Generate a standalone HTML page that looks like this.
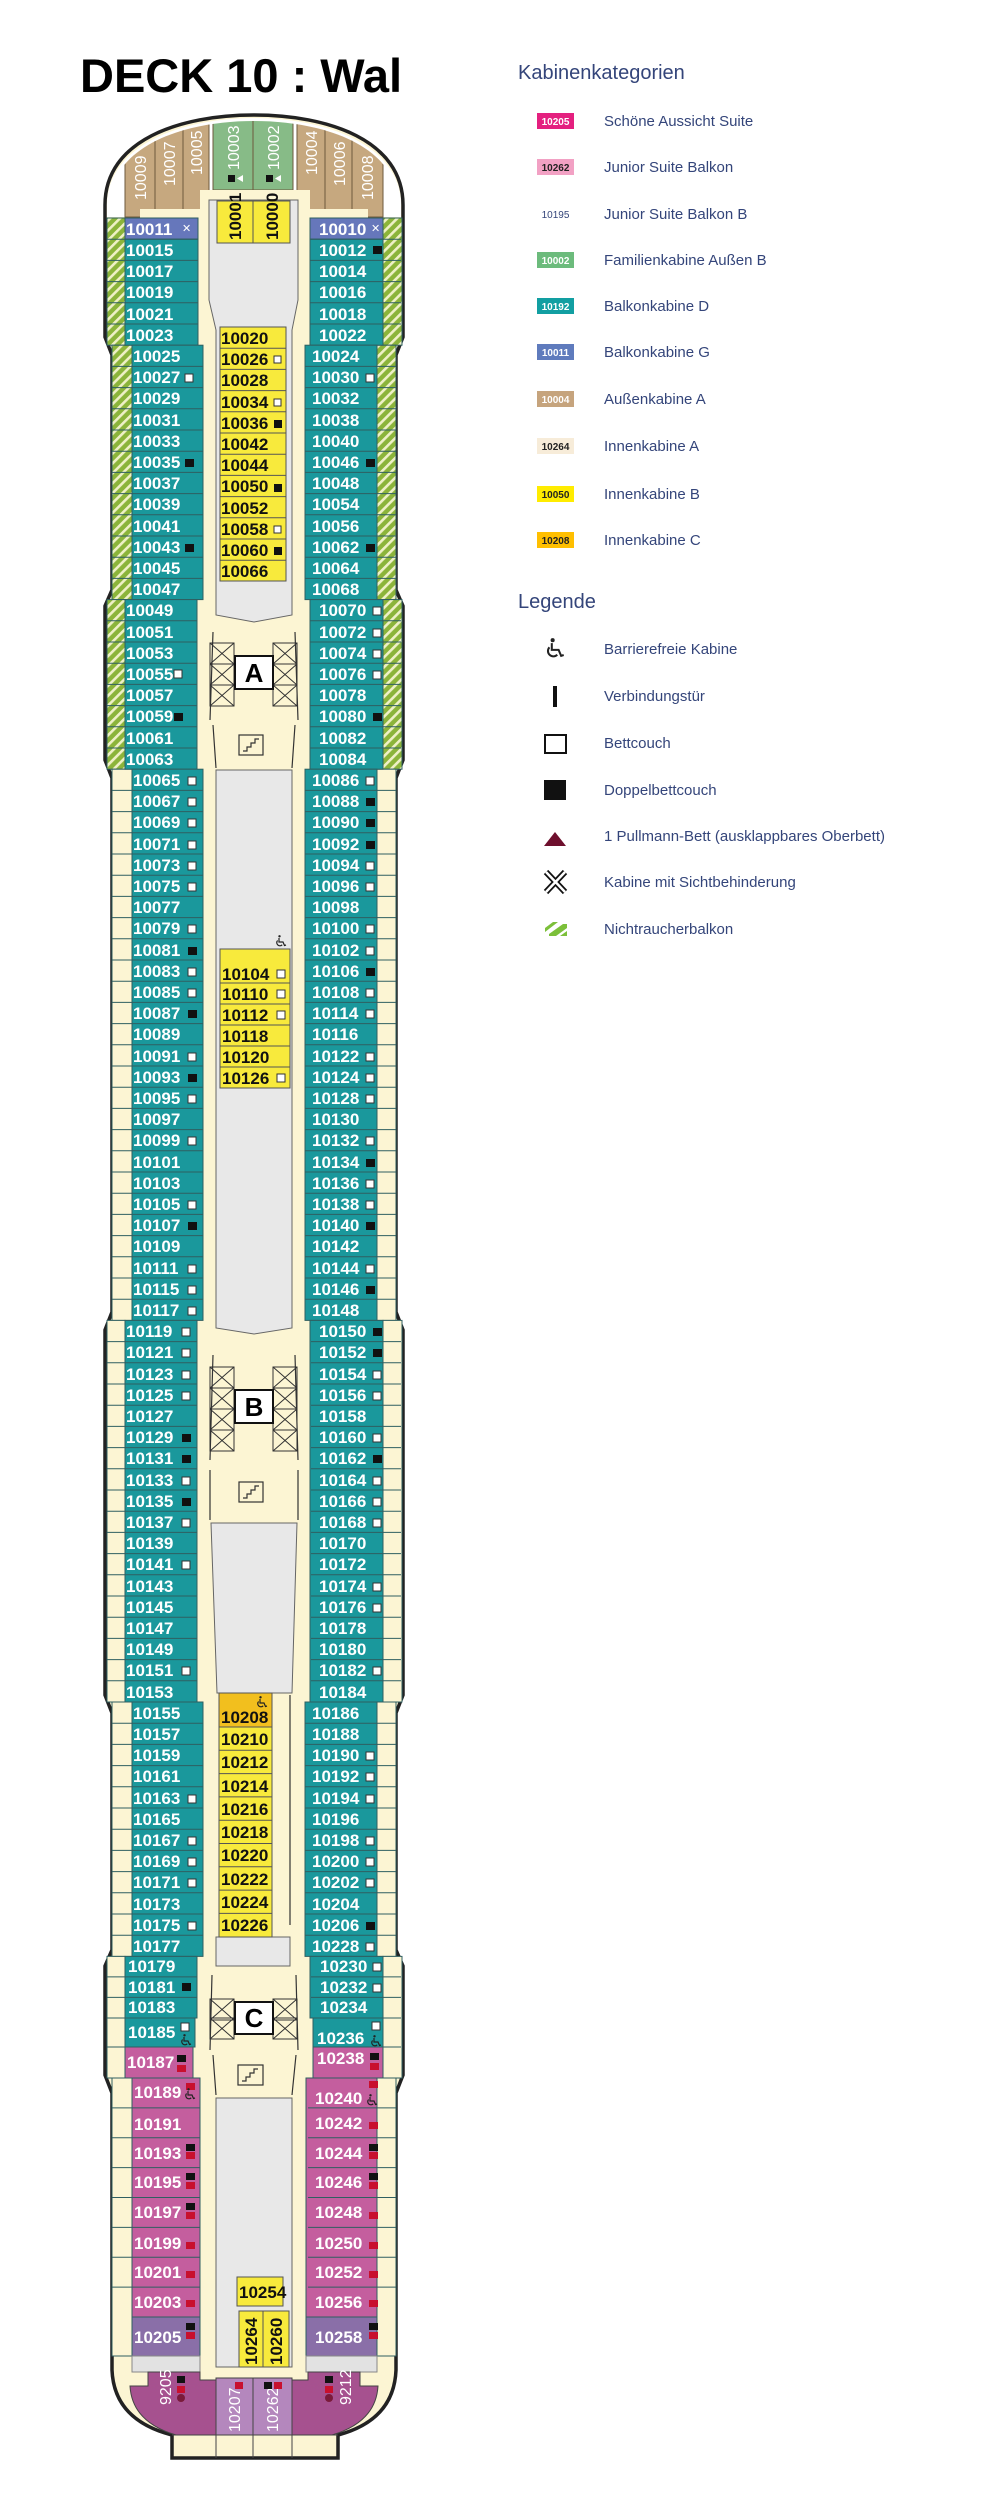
<!DOCTYPE html>
<html><head><meta charset="utf-8">
<style>
html,body{margin:0;padding:0;background:#fff;width:1000px;height:2500px;overflow:hidden}
svg text{font-family:"Liberation Sans",sans-serif}
.t{font-weight:bold;font-size:17px;fill:#fff}
.k{font-weight:bold;font-size:17px;fill:#111}
.v{font-size:16px;fill:#fff}
.lg{font-size:15px;fill:#34457a}
.hd{font-size:20px;fill:#34457a}
.bd{font-weight:bold;font-size:10px}
</style></head><body>
<svg width="1000" height="2500" viewBox="0 0 1000 2500" xmlns="http://www.w3.org/2000/svg">
<defs>
<pattern id="st" width="7" height="7" patternUnits="userSpaceOnUse" patternTransform="rotate(45)">
<rect width="7" height="7" fill="#8bb43a"/><rect width="2.6" height="7" fill="#eef0c6"/></pattern>
<clipPath id="bow"><path d="M110,230 L110,205 C110,147 182,121 254,121 C326,121 398,147 398,205 L398,230 Z"/></clipPath>
<g id="cr"><rect x="0" y="0" width="24" height="21" fill="none" stroke="#333" stroke-width="1"/><path d="M0,0 L24,21 M24,0 L0,21" stroke="#333" stroke-width="1"/></g>
<g id="wc" fill="none" stroke="#222" stroke-width="1.2"><circle cx="4.5" cy="1.3" r="1.2" fill="#222" stroke="none"/><path d="M4,3 L4,7 L8,7 L9.5,10.5 L11,10"/><path d="M2.6,5.5 A3,3 0 1 0 7.2,9.8"/></g>
</defs>

<text x="80" y="92" font-weight="bold" font-size="47" fill="#000">DECK 10 : Wal</text>

<!-- hull -->
<path d="M105,205 C105,140 180,115 254,115 C328,115 403,140 403,205 L403,337 L396,355 L396,590 L403,606 L403,760 L396,778 L396,1312 L403,1330 L403,1695 L396,1713 L396,1950 L403,1966 L403,2075 L396,2093 L396,2370 Q394,2420 338,2435 L338,2458 L172,2458 L172,2435 Q114,2420 112,2370 L112,2093 L105,2075 L105,1966 L112,1950 L112,1713 L105,1695 L105,1330 L112,1312 L112,778 L105,760 L105,606 L112,590 L112,355 L105,337 Z" fill="#fcf5d3" stroke="#222" stroke-width="3.5"/>
<path d="M107,217 L107,205 C107,145 182,118 254,118 C326,118 401,145 401,205 L401,217 Z" fill="#fff"/>
<g clip-path="url(#bow)" stroke="#6e5a3e" stroke-width="1">
<rect x="125" y="110" width="30" height="107" fill="#c6a87f"/>
<rect x="155" y="110" width="28" height="100" fill="#c6a87f"/>
<rect x="183" y="110" width="26" height="100" fill="#c6a87f"/>
<rect x="213" y="110" width="40" height="80" fill="#87bb87"/>
<rect x="253" y="110" width="40" height="80" fill="#87bb87"/>
<rect x="297" y="110" width="28" height="100" fill="#c6a87f"/>
<rect x="325" y="110" width="27" height="100" fill="#c6a87f"/>
<rect x="352" y="110" width="31" height="107" fill="#c6a87f"/>
</g>
<rect x="140" y="209" width="228" height="9" fill="#fcf5d3"/>
<rect x="200" y="190" width="110" height="20" fill="#fcf5d3"/>
<g class="v">
<text transform="translate(146,200) rotate(-90)">10009</text>
<text transform="translate(175,186) rotate(-90)">10007</text>
<text transform="translate(202,175) rotate(-90)">10005</text>
<text transform="translate(239,170) rotate(-90)">10003</text>
<text transform="translate(279,170) rotate(-90)">10002</text>
<text transform="translate(317,175) rotate(-90)">10004</text>
<text transform="translate(345,186) rotate(-90)">10006</text>
<text transform="translate(373,200) rotate(-90)">10008</text>
</g>
<rect x="228" y="175" width="7" height="7" fill="#111"/><path d="M243,175 L243,182 L237,178.5Z" fill="#fff"/>
<rect x="266" y="175" width="7" height="7" fill="#111"/><path d="M281,175 L281,182 L275,178.5Z" fill="#fff"/>

<!-- central grey areas -->
<g fill="#e8e8e8" stroke="#666" stroke-width="1">
<path d="M209,200 L298,200 L298,300 L292,330 L292,615 L254,622 L216,615 L216,330 L209,300 Z"/>
<path d="M216,770 L292,770 L292,1328 L254,1334 L216,1328 Z"/>
<path d="M211,1523 L297,1523 L292,1693 L217,1693 Z"/>
<rect x="216" y="1937" width="74" height="29"/>
<rect x="216" y="2098" width="76" height="269"/>
</g>
<!-- top yellow -->
<g stroke="#555" stroke-width="1" fill="#f8ea3c">
<rect x="217" y="201" width="36" height="42"/><rect x="253" y="201" width="37" height="42"/>
</g>
<text class="k" transform="translate(241,240) rotate(-90)">10001</text>
<text class="k" transform="translate(278,240) rotate(-90)">10000</text>

<!-- elevators -->
<use href="#cr" x="210" y="643"/><use href="#cr" x="210" y="664"/><use href="#cr" x="210" y="685"/>
<use href="#cr" x="273" y="643"/><use href="#cr" x="273" y="664"/><use href="#cr" x="273" y="685"/>
<rect x="235" y="656" width="38" height="33" fill="#fff" stroke="#111" stroke-width="2"/>
<text x="254" y="682" text-anchor="middle" font-weight="bold" font-size="26">A</text>
<use href="#cr" x="210" y="1367"/><use href="#cr" x="210" y="1388"/><use href="#cr" x="210" y="1409"/><use href="#cr" x="210" y="1430"/>
<use href="#cr" x="273" y="1367"/><use href="#cr" x="273" y="1388"/><use href="#cr" x="273" y="1409"/><use href="#cr" x="273" y="1430"/>
<rect x="235" y="1390" width="38" height="33" fill="#fff" stroke="#111" stroke-width="2"/>
<text x="254" y="1416" text-anchor="middle" font-weight="bold" font-size="26">B</text>
<use href="#cr" x="210" y="1999"/><use href="#cr" x="210" y="2018"/>
<use href="#cr" x="273" y="1999"/><use href="#cr" x="273" y="2018"/>
<rect x="235" y="2002" width="38" height="32" fill="#fff" stroke="#111" stroke-width="2"/>
<text x="254" y="2027" text-anchor="middle" font-weight="bold" font-size="26">C</text>
<g fill="none" stroke="#333" stroke-width="1.2">
<rect x="239" y="735" width="24" height="20"/><path d="M243,751 L247,751 L247,747 L251,747 L251,743 L255,743 L255,739 L259,739"/>
<rect x="239" y="1482" width="24" height="20"/><path d="M243,1498 L247,1498 L247,1494 L251,1494 L251,1490 L255,1490 L255,1486 L259,1486"/>
<rect x="238" y="2065" width="25" height="20"/><path d="M242,2081 L246,2081 L246,2077 L250,2077 L250,2073 L254,2073 L254,2069 L258,2069"/>
<path d="M213,632 L210,720 M295,632 L298,720 M213,725 L216,768 M295,725 L292,768"/>
<path d="M213,1355 L210,1460 M295,1355 L298,1460 M210,1470 L210,1520 M298,1470 L298,1520"/>
<path d="M212,1975 L210,2050 M296,1975 L298,2050 M213,2055 L216,2095 M296,2055 L292,2095"/>
<path d="M290,1695 L290,1925"/>
</g>

<!-- inner yellow cabins -->
<g stroke="#555" stroke-width="1" fill="#f8ea3c">
<rect x="220" y="327" width="66" height="254"/>
<rect x="220" y="949" width="70" height="139"/>
<rect x="219" y="1693" width="53" height="34" fill="#f2bf1e"/>
<rect x="219" y="1727" width="53" height="210"/>
<rect x="237" y="2277" width="46" height="29"/>
<rect x="239" y="2311" width="24" height="56"/><rect x="263" y="2311" width="26" height="56"/>
<path d="M220,348.2 H286 M220,369.4 H286 M220,390.6 H286 M220,411.8 H286 M220,433 H286 M220,454.2 H286 M220,475.4 H286 M220,496.6 H286 M220,517.8 H286 M220,539 H286 M220,560.2 H286"/>
<path d="M220,983 H290 M220,1004 H290 M220,1025 H290 M220,1046 H290 M220,1067 H290"/>
<path d="M219,1750.3 H272 M219,1773.6 H272 M219,1796.9 H272 M219,1820.2 H272 M219,1843.5 H272 M219,1866.8 H272 M219,1890.1 H272 M219,1913.4 H272"/>
</g>
<g class="k">
<text x="221" y="344">10020</text><text x="221" y="365">10026</text><text x="221" y="386">10028</text><text x="221" y="408">10034</text><text x="221" y="429">10036</text><text x="221" y="450">10042</text><text x="221" y="471">10044</text><text x="221" y="492">10050</text><text x="221" y="514">10052</text><text x="221" y="535">10058</text><text x="221" y="556">10060</text><text x="221" y="577">10066</text>
<text x="222" y="980">10104</text><text x="222" y="1000">10110</text><text x="222" y="1021">10112</text><text x="222" y="1042">10118</text><text x="222" y="1063">10120</text><text x="222" y="1084">10126</text>
<text x="221" y="1723">10208</text><text x="221" y="1745">10210</text><text x="221" y="1768">10212</text><text x="221" y="1792">10214</text><text x="221" y="1815">10216</text><text x="221" y="1838">10218</text><text x="221" y="1861">10220</text><text x="221" y="1885">10222</text><text x="221" y="1908">10224</text><text x="221" y="1931">10226</text>
<text x="239" y="2298">10254</text>
<text transform="translate(257,2365) rotate(-90)">10264</text><text transform="translate(282,2365) rotate(-90)">10260</text>
</g>
<g fill="#fff" stroke="#333" stroke-width="1">
<rect x="274" y="356" width="7" height="7"/><rect x="274" y="399" width="7" height="7"/><rect x="274" y="526" width="7" height="7"/>
<rect x="277" y="970" width="8" height="8"/><rect x="277" y="990" width="8" height="8"/><rect x="277" y="1011" width="8" height="8"/><rect x="277" y="1074" width="8" height="8"/>
</g>
<g fill="#111"><rect x="274" y="420" width="8" height="8"/><rect x="274" y="484" width="8" height="8"/><rect x="274" y="547" width="8" height="8"/></g>

<!-- LEFT cabins -->
<g stroke="#2f5f61" stroke-width="1">
<rect x="107" y="218" width="18" height="127.2" fill="url(#st)"/>
<rect x="112" y="345.2" width="20" height="254.4" fill="url(#st)"/>
<rect x="107" y="599.6" width="18" height="169.6" fill="url(#st)"/>
<rect x="112" y="769.2" width="20" height="551.2" fill="#fcf5d3"/>
<rect x="107" y="1320.4" width="18" height="381.6" fill="#fcf5d3"/>
<rect x="112" y="1702" width="20" height="254.4" fill="#fcf5d3"/>
<rect x="107" y="1956.4" width="18" height="121.6" fill="#fcf5d3"/>
<rect x="112" y="2078" width="20" height="278" fill="#fcf5d3"/>
<rect x="125" y="218" width="73" height="21.2" fill="#6677bb"/>
<rect x="125" y="239.2" width="73" height="106" fill="#1a989c"/>
<rect x="132" y="345.2" width="71" height="254.4" fill="#1a989c"/>
<rect x="125" y="599.6" width="72" height="169.6" fill="#1a989c"/>
<rect x="132" y="769.2" width="71" height="551.2" fill="#1a989c"/>
<rect x="125" y="1320.4" width="72" height="381.6" fill="#1a989c"/>
<rect x="132" y="1702" width="71" height="254.4" fill="#1a989c"/>
<rect x="125" y="1956.4" width="72" height="61.6" fill="#1a989c"/>
<rect x="125" y="2018" width="70" height="29" fill="#1a989c"/>
<rect x="125" y="2047" width="68" height="31" fill="#c45e9e"/>
<rect x="132" y="2078" width="68" height="239" fill="#c45e9e"/>
<rect x="132" y="2317" width="68" height="39" fill="#8a6fa8"/>
<!-- RIGHT -->
<rect x="383" y="218" width="19" height="127.2" fill="url(#st)"/>
<rect x="377" y="345.2" width="19" height="254.4" fill="url(#st)"/>
<rect x="383" y="599.6" width="19" height="169.6" fill="url(#st)"/>
<rect x="377" y="769.2" width="19" height="551.2" fill="#fcf5d3"/>
<rect x="383" y="1320.4" width="19" height="381.6" fill="#fcf5d3"/>
<rect x="377" y="1702" width="19" height="254.4" fill="#fcf5d3"/>
<rect x="383" y="1956.4" width="19" height="121.6" fill="#fcf5d3"/>
<rect x="377" y="2078" width="19" height="278" fill="#fcf5d3"/>
<rect x="310" y="218" width="73" height="21.2" fill="#6677bb"/>
<rect x="310" y="239.2" width="73" height="106" fill="#1a989c"/>
<rect x="305" y="345.2" width="72" height="254.4" fill="#1a989c"/>
<rect x="310" y="599.6" width="73" height="169.6" fill="#1a989c"/>
<rect x="305" y="769.2" width="72" height="551.2" fill="#1a989c"/>
<rect x="310" y="1320.4" width="73" height="381.6" fill="#1a989c"/>
<rect x="305" y="1702" width="72" height="254.4" fill="#1a989c"/>
<rect x="310" y="1956.4" width="73" height="61.6" fill="#1a989c"/>
<rect x="313" y="2018" width="70" height="29" fill="#1a989c"/>
<rect x="313" y="2047" width="70" height="31" fill="#c45e9e"/>
<rect x="306" y="2078" width="71" height="239" fill="#c45e9e"/>
<rect x="306" y="2317" width="71" height="39" fill="#8a6fa8"/>
</g>
<!-- row lines -->
<g stroke="#2f5f61" stroke-width="1">
<path d="M107,239.2 H198 M107,260.4 H198 M107,281.6 H198 M107,302.8 H198 M107,324 H198
M112,366.4 H203 M112,387.6 H203 M112,408.8 H203 M112,430 H203 M112,451.2 H203 M112,472.4 H203 M112,493.6 H203 M112,514.8 H203 M112,536 H203 M112,557.2 H203 M112,578.4 H203
M107,620.8 H197 M107,642 H197 M107,663.2 H197 M107,684.4 H197 M107,705.6 H197 M107,726.8 H197 M107,748 H197"/>
<path d="M401,239.2 H310 M401,260.4 H310 M401,281.6 H310 M401,302.8 H310 M401,324 H310
M396,366.4 H305 M396,387.6 H305 M396,408.8 H305 M396,430 H305 M396,451.2 H305 M396,472.4 H305 M396,493.6 H305 M396,514.8 H305 M396,536 H305 M396,557.2 H305 M396,578.4 H305
M401,620.8 H310 M401,642 H310 M401,663.2 H310 M401,684.4 H310 M401,705.6 H310 M401,726.8 H310 M401,748 H310"/>
</g>
<g id="lines4" stroke="#2f5f61" stroke-width="1">
<path d="M112,790.4 H203 M112,811.6 H203 M112,832.8 H203 M112,854 H203 M112,875.2 H203 M112,896.4 H203 M112,917.6 H203 M112,938.8 H203 M112,960 H203 M112,981.2 H203 M112,1002.4 H203 M112,1023.6 H203 M112,1044.8 H203 M112,1066 H203 M112,1087.2 H203 M112,1108.4 H203 M112,1129.6 H203 M112,1150.8 H203 M112,1172 H203 M112,1193.2 H203 M112,1214.4 H203 M112,1235.6 H203 M112,1256.8 H203 M112,1278 H203 M112,1299.2 H203"/>
<path d="M107,1341.6 H197 M107,1362.8 H197 M107,1384 H197 M107,1405.2 H197 M107,1426.4 H197 M107,1447.6 H197 M107,1468.8 H197 M107,1490 H197 M107,1511.2 H197 M107,1532.4 H197 M107,1553.6 H197 M107,1574.8 H197 M107,1596 H197 M107,1617.2 H197 M107,1638.4 H197 M107,1659.6 H197 M107,1680.8 H197"/>
<path d="M112,1723.2 H203 M112,1744.4 H203 M112,1765.6 H203 M112,1786.8 H203 M112,1808 H203 M112,1829.2 H203 M112,1850.4 H203 M112,1871.6 H203 M112,1892.8 H203 M112,1914 H203 M112,1935.2 H203"/>
<path d="M107,1976.9 H197 M107,1997.4 H197 M107,2018 H197 M107,2047 H195"/>
<path d="M112,2107.9 H200 M112,2137.8 H200 M112,2167.6 H200 M112,2197.5 H200 M112,2227.4 H200 M112,2257.3 H200 M112,2287.1 H200"/>
</g>
<use href="#lines4" transform="translate(508,0) scale(-1,1)"/>

<!-- left labels -->
<g class="t">
<text x="126" y="235">10011</text><text x="126" y="256">10015</text><text x="126" y="277">10017</text><text x="126" y="298">10019</text><text x="126" y="320">10021</text><text x="126" y="341">10023</text>
<text x="133" y="362">10025</text><text x="133" y="383">10027</text><text x="133" y="404">10029</text><text x="133" y="426">10031</text><text x="133" y="447">10033</text><text x="133" y="468">10035</text><text x="133" y="489">10037</text><text x="133" y="510">10039</text><text x="133" y="532">10041</text><text x="133" y="553">10043</text><text x="133" y="574">10045</text><text x="133" y="595">10047</text>
<text x="126" y="616">10049</text><text x="126" y="638">10051</text><text x="126" y="659">10053</text><text x="126" y="680">10055</text><text x="126" y="701">10057</text><text x="126" y="722">10059</text><text x="126" y="744">10061</text><text x="126" y="765">10063</text>
<text x="133" y="786">10065</text><text x="133" y="807">10067</text><text x="133" y="828">10069</text><text x="133" y="850">10071</text><text x="133" y="871">10073</text><text x="133" y="892">10075</text><text x="133" y="913">10077</text><text x="133" y="934">10079</text><text x="133" y="956">10081</text><text x="133" y="977">10083</text><text x="133" y="998">10085</text><text x="133" y="1019">10087</text><text x="133" y="1040">10089</text><text x="133" y="1062">10091</text><text x="133" y="1083">10093</text><text x="133" y="1104">10095</text><text x="133" y="1125">10097</text><text x="133" y="1146">10099</text><text x="133" y="1168">10101</text><text x="133" y="1189">10103</text><text x="133" y="1210">10105</text><text x="133" y="1231">10107</text><text x="133" y="1252">10109</text><text x="133" y="1274">10111</text><text x="133" y="1295">10115</text><text x="133" y="1316">10117</text>
<text x="126" y="1337">10119</text><text x="126" y="1358">10121</text><text x="126" y="1380">10123</text><text x="126" y="1401">10125</text><text x="126" y="1422">10127</text><text x="126" y="1443">10129</text><text x="126" y="1464">10131</text><text x="126" y="1486">10133</text><text x="126" y="1507">10135</text><text x="126" y="1528">10137</text><text x="126" y="1549">10139</text><text x="126" y="1570">10141</text><text x="126" y="1592">10143</text><text x="126" y="1613">10145</text><text x="126" y="1634">10147</text><text x="126" y="1655">10149</text><text x="126" y="1676">10151</text><text x="126" y="1698">10153</text>
<text x="133" y="1719">10155</text><text x="133" y="1740">10157</text><text x="133" y="1761">10159</text><text x="133" y="1782">10161</text><text x="133" y="1804">10163</text><text x="133" y="1825">10165</text><text x="133" y="1846">10167</text><text x="133" y="1867">10169</text><text x="133" y="1888">10171</text><text x="133" y="1910">10173</text><text x="133" y="1931">10175</text><text x="133" y="1952">10177</text>
<text x="128" y="1972">10179</text><text x="128" y="1993">10181</text><text x="128" y="2013">10183</text><text x="128" y="2038">10185</text>
<text x="127" y="2068">10187</text><text x="134" y="2098">10189</text><text x="134" y="2130">10191</text><text x="134" y="2159">10193</text><text x="134" y="2188">10195</text><text x="134" y="2218">10197</text><text x="134" y="2249">10199</text><text x="134" y="2278">10201</text><text x="134" y="2308">10203</text><text x="134" y="2343">10205</text>
</g>
<!-- right labels -->
<g class="t">
<text x="319" y="235">10010</text><text x="319" y="256">10012</text><text x="319" y="277">10014</text><text x="319" y="298">10016</text><text x="319" y="320">10018</text><text x="319" y="341">10022</text>
<text x="312" y="362">10024</text><text x="312" y="383">10030</text><text x="312" y="404">10032</text><text x="312" y="426">10038</text><text x="312" y="447">10040</text><text x="312" y="468">10046</text><text x="312" y="489">10048</text><text x="312" y="510">10054</text><text x="312" y="532">10056</text><text x="312" y="553">10062</text><text x="312" y="574">10064</text><text x="312" y="595">10068</text>
<text x="319" y="616">10070</text><text x="319" y="638">10072</text><text x="319" y="659">10074</text><text x="319" y="680">10076</text><text x="319" y="701">10078</text><text x="319" y="722">10080</text><text x="319" y="744">10082</text><text x="319" y="765">10084</text>
<text x="312" y="786">10086</text><text x="312" y="807">10088</text><text x="312" y="828">10090</text><text x="312" y="850">10092</text><text x="312" y="871">10094</text><text x="312" y="892">10096</text><text x="312" y="913">10098</text><text x="312" y="934">10100</text><text x="312" y="956">10102</text><text x="312" y="977">10106</text><text x="312" y="998">10108</text><text x="312" y="1019">10114</text><text x="312" y="1040">10116</text><text x="312" y="1062">10122</text><text x="312" y="1083">10124</text><text x="312" y="1104">10128</text><text x="312" y="1125">10130</text><text x="312" y="1146">10132</text><text x="312" y="1168">10134</text><text x="312" y="1189">10136</text><text x="312" y="1210">10138</text><text x="312" y="1231">10140</text><text x="312" y="1252">10142</text><text x="312" y="1274">10144</text><text x="312" y="1295">10146</text><text x="312" y="1316">10148</text>
<text x="319" y="1337">10150</text><text x="319" y="1358">10152</text><text x="319" y="1380">10154</text><text x="319" y="1401">10156</text><text x="319" y="1422">10158</text><text x="319" y="1443">10160</text><text x="319" y="1464">10162</text><text x="319" y="1486">10164</text><text x="319" y="1507">10166</text><text x="319" y="1528">10168</text><text x="319" y="1549">10170</text><text x="319" y="1570">10172</text><text x="319" y="1592">10174</text><text x="319" y="1613">10176</text><text x="319" y="1634">10178</text><text x="319" y="1655">10180</text><text x="319" y="1676">10182</text><text x="319" y="1698">10184</text>
<text x="312" y="1719">10186</text><text x="312" y="1740">10188</text><text x="312" y="1761">10190</text><text x="312" y="1782">10192</text><text x="312" y="1804">10194</text><text x="312" y="1825">10196</text><text x="312" y="1846">10198</text><text x="312" y="1867">10200</text><text x="312" y="1888">10202</text><text x="312" y="1910">10204</text><text x="312" y="1931">10206</text><text x="312" y="1952">10228</text>
<text x="320" y="1972">10230</text><text x="320" y="1993">10232</text><text x="320" y="2013">10234</text><text x="317" y="2044">10236</text>
<text x="317" y="2064">10238</text><text x="315" y="2104">10240</text><text x="315" y="2129">10242</text><text x="315" y="2159">10244</text><text x="315" y="2188">10246</text><text x="315" y="2218">10248</text><text x="315" y="2249">10250</text><text x="315" y="2278">10252</text><text x="315" y="2308">10256</text><text x="315" y="2343">10258</text>
</g>

<!-- cabin icons -->
<g fill="#fff" stroke="#333" stroke-width="1">
<rect x="185" y="374" width="8" height="8"/><rect x="174" y="670" width="8" height="8"/>
<rect x="188" y="777" width="8" height="8"/><rect x="188" y="798" width="8" height="8"/><rect x="188" y="819" width="8" height="8"/><rect x="188" y="841" width="8" height="8"/><rect x="188" y="862" width="8" height="8"/><rect x="188" y="883" width="8" height="8"/><rect x="188" y="925" width="8" height="8"/><rect x="188" y="968" width="8" height="8"/><rect x="188" y="989" width="8" height="8"/><rect x="188" y="1053" width="8" height="8"/><rect x="188" y="1095" width="8" height="8"/><rect x="188" y="1137" width="8" height="8"/><rect x="188" y="1201" width="8" height="8"/><rect x="188" y="1265" width="8" height="8"/><rect x="188" y="1286" width="8" height="8"/><rect x="188" y="1307" width="8" height="8"/>
<rect x="182" y="1328" width="8" height="8"/><rect x="182" y="1349" width="8" height="8"/><rect x="182" y="1371" width="8" height="8"/><rect x="182" y="1392" width="8" height="8"/><rect x="182" y="1477" width="8" height="8"/><rect x="182" y="1519" width="8" height="8"/><rect x="182" y="1561" width="8" height="8"/><rect x="182" y="1667" width="8" height="8"/>
<rect x="188" y="1795" width="8" height="8"/><rect x="188" y="1837" width="8" height="8"/><rect x="188" y="1858" width="8" height="8"/><rect x="188" y="1879" width="8" height="8"/><rect x="188" y="1922" width="8" height="8"/>
<rect x="181" y="2023" width="8" height="8"/>
<rect x="366" y="374" width="8" height="8"/><rect x="373" y="607" width="8" height="8"/><rect x="373" y="629" width="8" height="8"/><rect x="373" y="650" width="8" height="8"/><rect x="373" y="671" width="8" height="8"/>
<rect x="366" y="777" width="8" height="8"/><rect x="366" y="862" width="8" height="8"/><rect x="366" y="883" width="8" height="8"/><rect x="366" y="925" width="8" height="8"/><rect x="366" y="947" width="8" height="8"/><rect x="366" y="989" width="8" height="8"/><rect x="366" y="1010" width="8" height="8"/><rect x="366" y="1053" width="8" height="8"/><rect x="366" y="1074" width="8" height="8"/><rect x="366" y="1095" width="8" height="8"/><rect x="366" y="1137" width="8" height="8"/><rect x="366" y="1180" width="8" height="8"/><rect x="366" y="1201" width="8" height="8"/><rect x="366" y="1265" width="8" height="8"/>
<rect x="373" y="1371" width="8" height="8"/><rect x="373" y="1392" width="8" height="8"/><rect x="373" y="1434" width="8" height="8"/><rect x="373" y="1477" width="8" height="8"/><rect x="373" y="1498" width="8" height="8"/><rect x="373" y="1519" width="8" height="8"/><rect x="373" y="1583" width="8" height="8"/><rect x="373" y="1604" width="8" height="8"/><rect x="373" y="1667" width="8" height="8"/>
<rect x="366" y="1752" width="8" height="8"/><rect x="366" y="1773" width="8" height="8"/><rect x="366" y="1795" width="8" height="8"/><rect x="366" y="1837" width="8" height="8"/><rect x="366" y="1858" width="8" height="8"/><rect x="366" y="1879" width="8" height="8"/><rect x="366" y="1943" width="8" height="8"/>
<rect x="373" y="1963" width="8" height="8"/><rect x="373" y="1984" width="8" height="8"/><rect x="372" y="2022" width="8" height="8"/>
</g>
<g fill="#111">
<rect x="373" y="246" width="9" height="8"/><rect x="185" y="459" width="9" height="8"/><rect x="185" y="544" width="9" height="8"/><rect x="366" y="459" width="9" height="8"/><rect x="366" y="544" width="9" height="8"/><rect x="174" y="713" width="9" height="8"/><rect x="373" y="713" width="9" height="8"/>
<rect x="188" y="947" width="9" height="8"/><rect x="188" y="1010" width="9" height="8"/><rect x="188" y="1074" width="9" height="8"/><rect x="188" y="1222" width="9" height="8"/>
<rect x="366" y="798" width="9" height="8"/><rect x="366" y="819" width="9" height="8"/><rect x="366" y="841" width="9" height="8"/><rect x="366" y="968" width="9" height="8"/><rect x="366" y="1159" width="9" height="8"/><rect x="366" y="1222" width="9" height="8"/><rect x="366" y="1286" width="9" height="8"/>
<rect x="182" y="1434" width="9" height="8"/><rect x="182" y="1455" width="9" height="8"/><rect x="182" y="1498" width="9" height="8"/>
<rect x="373" y="1328" width="9" height="8"/><rect x="373" y="1349" width="9" height="8"/><rect x="373" y="1455" width="9" height="8"/><rect x="366" y="1922" width="9" height="8"/>
<rect x="182" y="1983" width="9" height="8"/>
<rect x="177" y="2055" width="9" height="7"/><rect x="186" y="2144" width="9" height="7"/><rect x="186" y="2173" width="9" height="7"/><rect x="186" y="2203" width="9" height="7"/><rect x="186" y="2323" width="9" height="7"/>
<rect x="370" y="2053" width="9" height="7"/><rect x="369" y="2144" width="9" height="7"/><rect x="369" y="2173" width="9" height="7"/><rect x="369" y="2323" width="9" height="7"/>
</g>
<g fill="#c8102e">
<rect x="177" y="2065" width="9" height="7"/><rect x="186" y="2083" width="9" height="7"/><rect x="186" y="2152" width="9" height="7"/><rect x="186" y="2182" width="9" height="7"/><rect x="186" y="2212" width="9" height="7"/><rect x="186" y="2242" width="9" height="7"/><rect x="186" y="2271" width="9" height="7"/><rect x="186" y="2300" width="9" height="7"/><rect x="186" y="2332" width="9" height="7"/>
<rect x="370" y="2063" width="9" height="7"/><rect x="369" y="2081" width="9" height="7"/><rect x="369" y="2122" width="9" height="7"/><rect x="369" y="2152" width="9" height="7"/><rect x="369" y="2182" width="9" height="7"/><rect x="369" y="2212" width="9" height="7"/><rect x="369" y="2242" width="9" height="7"/><rect x="369" y="2271" width="9" height="7"/><rect x="369" y="2300" width="9" height="7"/><rect x="369" y="2332" width="9" height="7"/>
</g>
<g font-size="11" fill="#fff"><text x="182" y="232">✕</text><text x="371" y="232">✕</text></g>
<use href="#wc" x="180" y="2034"/><use href="#wc" x="370" y="2035"/><use href="#wc" x="184" y="2088"/><use href="#wc" x="366" y="2094"/><use href="#wc" x="275" y="935"/><use href="#wc" x="256" y="1696"/>

<!-- stern -->
<rect x="132" y="2356" width="68" height="16" fill="#e2e2e2" stroke="#888"/>
<rect x="306" y="2356" width="71" height="16" fill="#e2e2e2" stroke="#888"/>
<g stroke="#444" stroke-width="1">
<path d="M148,2372 L200,2372 L200,2380 L216,2380 L216,2435 L176,2435 Q132,2422 130,2386 L148,2386 Z" fill="#a6518f"/>
<path d="M360,2372 L308,2372 L308,2380 L292,2380 L292,2435 L332,2435 Q376,2422 378,2386 L360,2386 Z" fill="#a6518f"/>
<rect x="216" y="2378" width="37" height="57" fill="#b487bd"/>
<rect x="253" y="2378" width="39" height="57" fill="#b487bd"/>
<path d="M172,2435 H338 M216,2435 V2458 M253,2435 V2458 M292,2435 V2458" fill="none"/>
</g>
<g class="v">
<text transform="translate(171,2405) rotate(-90)">9205</text>
<text transform="translate(240,2432) rotate(-90)">10207</text>
<text transform="translate(278,2432) rotate(-90)">10262</text>
<text transform="translate(351,2405) rotate(-90)">9212</text>
</g>
<rect x="177" y="2376" width="8" height="7" fill="#111"/><rect x="177" y="2386" width="8" height="7" fill="#c8102e"/><circle cx="181" cy="2398" r="4" fill="#7a1a3a"/>
<rect x="325" y="2376" width="8" height="7" fill="#111"/><rect x="325" y="2386" width="8" height="7" fill="#c8102e"/><circle cx="329" cy="2398" r="4" fill="#7a1a3a"/>
<rect x="235" y="2382" width="8" height="7" fill="#c8102e"/><rect x="264" y="2382" width="8" height="7" fill="#111"/><rect x="274" y="2382" width="8" height="7" fill="#c8102e"/>

<!-- LEGEND -->
<text class="hd" x="518" y="79">Kabinenkategorien</text>
<g class="bd">
<rect x="537" y="113" width="37" height="16" fill="#e4207f"/><text x="555.5" y="125" text-anchor="middle" fill="#fff">10205</text>
<rect x="537" y="159" width="37" height="16" fill="#f2a1c4"/><text x="555.5" y="171" text-anchor="middle" fill="#222">10262</text>
<text x="555.5" y="218" text-anchor="middle" fill="#34457a" font-weight="normal">10195</text>
<rect x="537" y="252" width="37" height="16" fill="#6cbb7c"/><text x="555.5" y="264" text-anchor="middle" fill="#fff">10002</text>
<rect x="537" y="298" width="37" height="16" fill="#129fa2"/><text x="555.5" y="310" text-anchor="middle" fill="#fff">10192</text>
<rect x="537" y="344" width="37" height="16" fill="#5f7bbd"/><text x="555.5" y="356" text-anchor="middle" fill="#fff">10011</text>
<rect x="537" y="391" width="37" height="16" fill="#c6a47d"/><text x="555.5" y="403" text-anchor="middle" fill="#fff">10004</text>
<rect x="537" y="438" width="37" height="16" fill="#f7ecd9"/><text x="555.5" y="450" text-anchor="middle" fill="#222">10264</text>
<rect x="537" y="486" width="37" height="16" fill="#ffec00"/><text x="555.5" y="498" text-anchor="middle" fill="#222">10050</text>
<rect x="537" y="532" width="37" height="16" fill="#ffbf00"/><text x="555.5" y="544" text-anchor="middle" fill="#222">10208</text>
</g>
<g class="lg">
<text x="604" y="126">Schöne Aussicht Suite</text>
<text x="604" y="172">Junior Suite Balkon</text>
<text x="604" y="219">Junior Suite Balkon B</text>
<text x="604" y="265">Familienkabine Außen B</text>
<text x="604" y="311">Balkonkabine D</text>
<text x="604" y="357">Balkonkabine G</text>
<text x="604" y="404">Außenkabine A</text>
<text x="604" y="451">Innenkabine A</text>
<text x="604" y="499">Innenkabine B</text>
<text x="604" y="545">Innenkabine C</text>
</g>
<text class="hd" x="518" y="608">Legende</text>
<g class="lg">
<text x="604" y="654">Barrierefreie Kabine</text>
<text x="604" y="701">Verbindungstür</text>
<text x="604" y="748">Bettcouch</text>
<text x="604" y="795">Doppelbettcouch</text>
<text x="604" y="841">1 Pullmann-Bett (ausklappbares Oberbett)</text>
<text x="604" y="887">Kabine mit Sichtbehinderung</text>
<text x="604" y="934">Nichtraucherbalkon</text>
</g>
<use href="#wc" transform="translate(545,638) scale(1.7)"/>
<rect x="553" y="686" width="4" height="21" fill="#111"/>
<rect x="545" y="735" width="21" height="18" fill="#fff" stroke="#111" stroke-width="2"/>
<rect x="544" y="780" width="22" height="20" fill="#111"/>
<path d="M544,846 L555,832 L566,846 Z" fill="#6e0f2d"/>
<path d="M546,872 L565,892 M565,872 L546,892" stroke="#111" stroke-width="6"/>
<path d="M546,872 L565,892 M565,872 L546,892" stroke="#fff" stroke-width="2.5"/>
<g transform="translate(545,922)"><path d="M0,6 L8,0 L13,0 L0,10 Z M4,12 L18,2 L22,2 L22,6 L11,14 L4,14 Z M15,14 L22,9 L22,14 Z" fill="#7cc03a"/></g>
</svg>
</body></html>
